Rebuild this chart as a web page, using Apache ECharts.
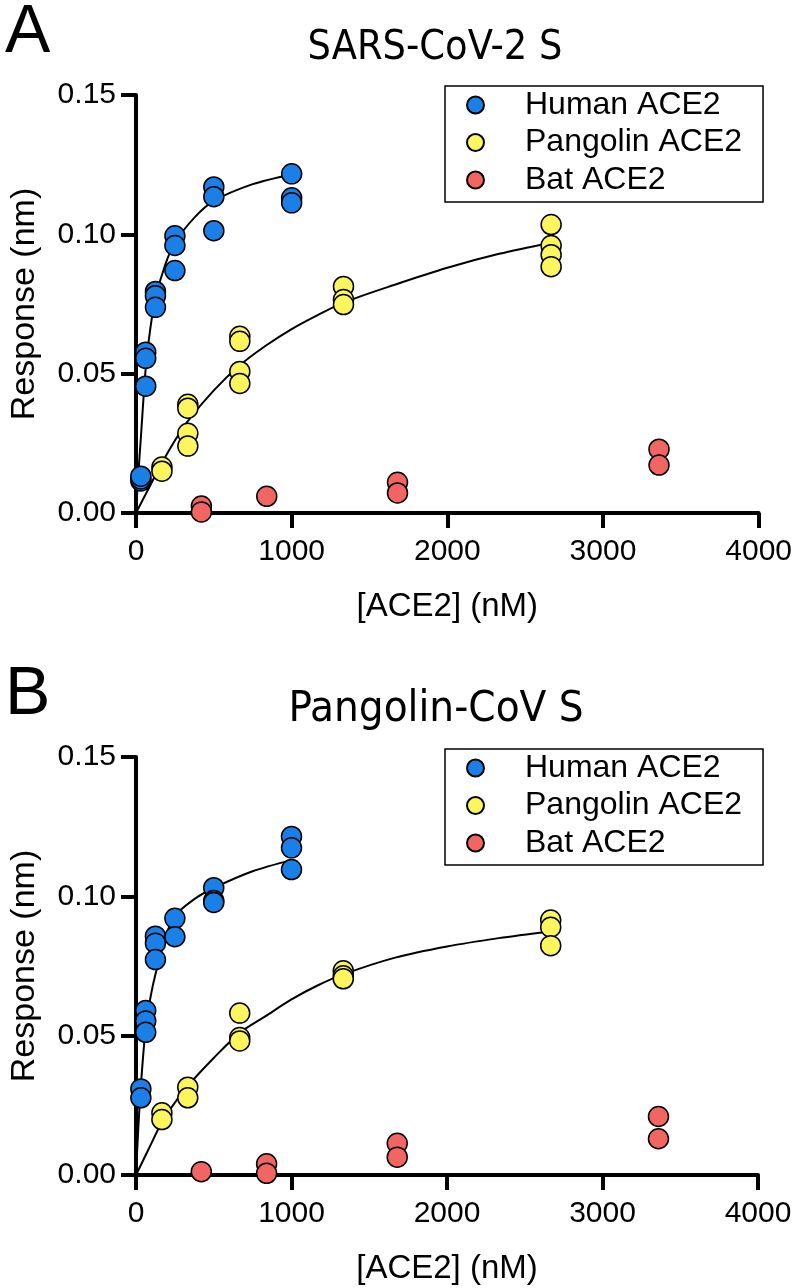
<!DOCTYPE html>
<html>
<head>
<meta charset="utf-8">
<script src="https://cdn.jsdelivr.net/npm/echarts@6/dist/echarts.min.js"></script>
<style>
  html, body { margin: 0; padding: 0; background: #fff; }
  #chart { width: 795px; height: 1288px; }
</style>
</head>
<body>
<div id="chart"></div>
<script>
// panel titles and series names
const panelTitles = ['SARS-CoV-2 S', 'Pangolin-CoV S'];
const panelLetters = ['A', 'B'];
const seriesNames = ['Human ACE2', 'Pangolin ACE2', 'Bat ACE2'];
const xTicks = [0, 1000, 2000, 3000, 4000];
const yTicks = [0, 0.05, 0.10, 0.15];

// Panel A - SARS-CoV-2 S  ([ACE2] nM, response nm)
const humanA = [
  [31.25, 0.0115], [31.25, 0.0122], [31.25, 0.0132],
  [62.5, 0.0577], [62.5, 0.0555], [62.5, 0.0455],
  [125, 0.0795], [125, 0.078], [125, 0.0738],
  [250, 0.0995], [250, 0.096], [250, 0.087],
  [500, 0.117], [500, 0.1135], [500, 0.1013],
  [1000, 0.1217], [1000, 0.1131], [1000, 0.1113]
];
const pangolinA = [
  [166.7, 0.0165], [166.7, 0.015],
  [333, 0.039], [333, 0.0376], [333, 0.0286], [333, 0.024],
  [667, 0.0634], [667, 0.0616], [667, 0.0508], [667, 0.0465],
  [1333, 0.0813], [1333, 0.0766], [1333, 0.0748],
  [2667, 0.1035], [2667, 0.096], [2667, 0.0927], [2667, 0.0884]
];
const batA = [
  [420, 0.0025], [420, 0.0004],
  [840, 0.006],
  [1680, 0.011], [1680, 0.0072],
  [3360, 0.0229], [3360, 0.0172]
];
// fitted curves
const humanFitA = [
  [0, 0], [15, 0.014], [31.25, 0.027], [62.5, 0.052], [94, 0.067], [125, 0.077],
  [187, 0.089], [250, 0.097], [375, 0.106], [500, 0.112], [750, 0.118], [1000, 0.1215]
];
const pangolinFitA = [
  [0, 0], [83, 0.009], [167, 0.018], [250, 0.026], [333, 0.033], [500, 0.044],
  [667, 0.053], [833, 0.060], [1000, 0.066], [1167, 0.071], [1333, 0.0755],
  [1667, 0.082], [2000, 0.088], [2333, 0.093], [2667, 0.097]
];

// Panel B - Pangolin-CoV S
const humanB = [
  [31.25, 0.0309], [31.25, 0.0277],
  [62.5, 0.059], [62.5, 0.0553], [62.5, 0.0512],
  [125, 0.0857], [125, 0.0832], [125, 0.0773],
  [250, 0.0921], [250, 0.0855],
  [500, 0.1031], [500, 0.0985], [500, 0.0978],
  [1000, 0.1215], [1000, 0.1174], [1000, 0.1096]
];
const pangolinB = [
  [166.7, 0.0223], [166.7, 0.0199],
  [333, 0.0315], [333, 0.0277],
  [667, 0.0581], [667, 0.0493], [667, 0.0481],
  [1333, 0.0733], [1333, 0.0715], [1333, 0.0704],
  [2667, 0.0915], [2667, 0.0889], [2667, 0.0823]
];
const batB = [
  [420, 0.0012],
  [840, 0.004], [840, 0.0006],
  [1680, 0.0114], [1680, 0.0064],
  [3360, 0.021], [3360, 0.013]
];
const humanFitB = [
  [0, 0], [15, 0.017], [31.25, 0.032], [62.5, 0.053], [94, 0.064], [125, 0.072],
  [187, 0.085], [250, 0.093], [375, 0.099], [500, 0.103], [750, 0.109], [1000, 0.113]
];
const pangolinFitB = [
  [0, 0], [83, 0.0095], [167, 0.019], [250, 0.026], [333, 0.032], [500, 0.042],
  [667, 0.051], [833, 0.057], [1000, 0.063], [1167, 0.068], [1333, 0.072],
  [1667, 0.078], [2000, 0.082], [2333, 0.085], [2667, 0.0875]
];

const colors = ['#1a7fe6', '#fbf65e', '#f16662'];
const font = '"Liberation Sans", Arial, sans-serif';
const titleFont = '"DejaVu Sans Condensed", "DejaVu Sans", sans-serif';

const grids = [
  { left: 130, top: 95, width: 630, height: 418 },
  { left: 131, top: 757, width: 627, height: 418 }
];
const legendTops = [86, 749];

function xAxisFor(i) {
  return {
    gridIndex: i, type: 'value', min: xTicks[0], max: xTicks[xTicks.length - 1], interval: 1000,
    name: '[ACE2] (nM)', nameLocation: 'middle', nameGap: 77,
    nameTextStyle: { fontFamily: font, fontSize: 33, color: '#000' },
    axisLine: { onZero: false, lineStyle: { color: '#000', width: 4 } },
    axisTick: { length: 15, lineStyle: { color: '#000', width: 4 } },
    axisLabel: { margin: 24, fontFamily: font, fontSize: 30, color: '#000',
      formatter: v => String(v) },
    splitLine: { show: false }
  };
}
function yAxisFor(i) {
  return {
    gridIndex: i, type: 'value', min: yTicks[0], max: yTicks[yTicks.length - 1], interval: 0.05,
    name: 'Response (nm)', nameLocation: 'middle', nameGap: 94, nameRotate: 90,
    nameTextStyle: { fontFamily: font, fontSize: 34, color: '#000' },
    axisLine: { onZero: false, lineStyle: { color: '#000', width: 4 } },
    axisTick: { length: 15, lineStyle: { color: '#000', width: 4 } },
    axisLabel: { margin: 20, fontFamily: font, fontSize: 30, color: '#000',
      formatter: v => v.toFixed(2) },
    splitLine: { show: false }
  };
}

function scatter(name, data, i, color) {
  return {
    name: name, type: 'scatter', xAxisIndex: i, yAxisIndex: i, data: data,
    symbol: 'circle', symbolSize: 20, z: 5,
    itemStyle: { color: color, borderColor: '#000', borderWidth: 1.5, opacity: 1 }
  };
}
function fit(data, i) {
  return {
    type: 'line', xAxisIndex: i, yAxisIndex: i, data: data,
    showSymbol: false, symbol: 'none', smooth: 0.3, z: 3,
    lineStyle: { color: '#000', width: 2 }, silent: true
  };
}

const panels = [
  [humanA, pangolinA, batA, humanFitA, pangolinFitA],
  [humanB, pangolinB, batB, humanFitB, pangolinFitB]
];

const series = [];
panels.forEach((p, i) => {
  series.push(fit(p[3], i), fit(p[4], i));
  series.push(scatter(seriesNames[0], p[0], i, colors[0]));
  series.push(scatter(seriesNames[1], p[1], i, colors[1]));
  series.push(scatter(seriesNames[2], p[2], i, colors[2]));
});

const chart = echarts.init(document.getElementById('chart'), null, { renderer: 'canvas' });
chart.setOption({
  animation: false,
  backgroundColor: '#fff',
  title: [
    { text: panelLetters[0], left: 0, top: -6, textStyle: { fontFamily: font, fontSize: 68, fontWeight: 'normal', color: '#000' } },
    { text: panelTitles[0], left: 430, top: 23, textAlign: 'center', textStyle: { fontFamily: titleFont, fontSize: 41, fontWeight: 'normal', color: '#000' } },
    { text: panelLetters[1], left: 0, top: 656, textStyle: { fontFamily: font, fontSize: 68, fontWeight: 'normal', color: '#000' } },
    { text: panelTitles[1], left: 431, top: 683, textAlign: 'center', textStyle: { fontFamily: titleFont, fontSize: 43.5, fontWeight: 'normal', color: '#000' } }
  ],
  legend: legendTops.map(t => ({
    data: seriesNames, orient: 'vertical', left: 445, top: t,
    itemWidth: 17, itemHeight: 17, itemGap: 5.5,
    padding: [3, 21, 6, 21],
    borderColor: '#000', borderWidth: 1.5,
    textStyle: { fontFamily: font, fontSize: 32, lineHeight: 32, color: '#000', padding: [0, 0, 0, 36] }
  })),
  grid: grids,
  xAxis: [xAxisFor(0), xAxisFor(1)],
  yAxis: [yAxisFor(0), yAxisFor(1)],
  series: series
});
</script>
</body>
</html>
